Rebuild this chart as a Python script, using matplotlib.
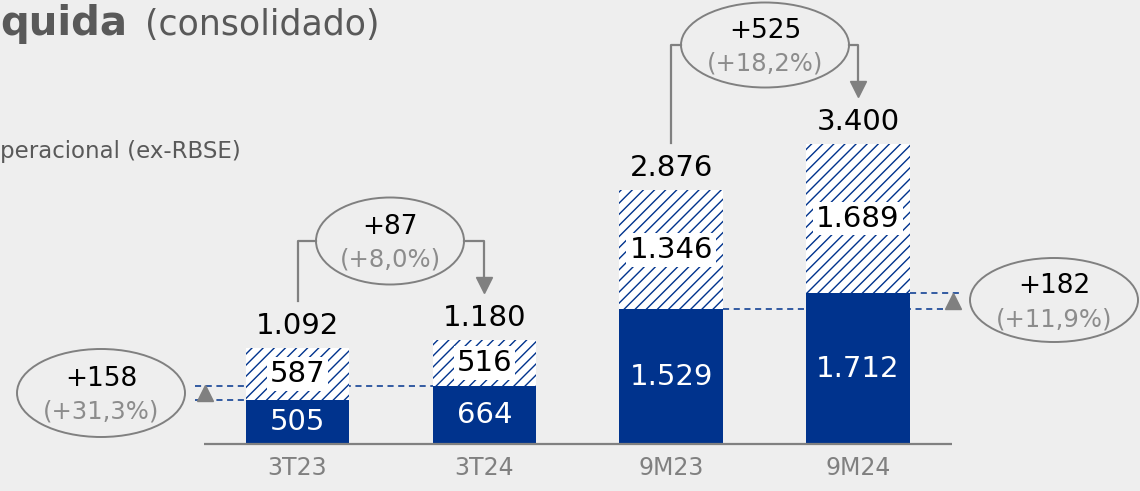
import numpy as np
import matplotlib
matplotlib.use("Agg")
import matplotlib.pyplot as plt
from matplotlib.patches import Ellipse

categories = ['3T23', '3T24', '9M23', '9M24']
base_vals = [505, 664, 1529, 1712]      # receita operacional (ex-RBSE)
other_vals = [587, 516, 1346, 1689]     # parcela hachurada
total_vals = [1092, 1180, 2876, 3400]

# comparacoes (de, para, variacao, %)
top_deltas = [(0, 1, '+87', '(+8,0%)'), (2, 3, '+525', '(+18,2%)')]
base_deltas = [(0, 1, '+158', '(+31,3%)'), (2, 3, '+182', '(+11,9%)')]

navy = '#00338d'
gray = '#808080'
bg = '#eeeeee'

def fmt(v):
    return f"{v:,}".replace(',', '.')

# pixel helpers (figure is 1140x491 px)
X0, DX, Y0, K = 297.5, 186.8, 444.3, 0.08832
def xd(px): return (px - X0) / DX
def yd(py): return (Y0 - py) / K
def w_(px): return px / DX
def h_(px): return px / K

plt.rcParams['hatch.linewidth'] = 1.0
plt.rcParams['hatch.color'] = navy
fig = plt.figure(figsize=(11.4, 4.91), dpi=100, facecolor=bg)
ax = fig.add_axes([0, 0, 1, 1])
ax.set_facecolor(bg)
ax.axis('off')
ax.set_xlim(xd(0), xd(1140))
ax.set_ylim(yd(491), yd(0))

x = np.arange(len(categories))
bw = w_(103.5)
ax.bar(x, base_vals, bw, color=navy, zorder=3)
ax.bar(x, other_vals, bw, bottom=base_vals, color='white', edgecolor=navy,
       hatch='///', linewidth=0, zorder=3)

# baseline
ax.plot([xd(204), xd(952)], [0, 0], color=gray, lw=1.6, zorder=4, solid_capstyle='butt')

for i in x:
    ax.text(i, base_vals[i] / 2, fmt(base_vals[i]), ha='center', va='center',
            color='white', fontsize=21, zorder=5)
    ax.text(i, base_vals[i] + other_vals[i] / 2, fmt(other_vals[i]), ha='center',
            va='center', color='black', fontsize=21, zorder=5,
            bbox=dict(facecolor='white', edgecolor='none', pad=2))
    ax.text(i, total_vals[i] + h_(22), fmt(total_vals[i]), ha='center', va='center',
            color='black', fontsize=21, zorder=5)
    ax.text(i, yd(468), categories[i], ha='center', va='center', color=gray, fontsize=17)

def bubble(cx, cy, w, h, main, pct):
    ax.add_patch(Ellipse((xd(cx), yd(cy)), w_(w), h_(h), facecolor='none',
                         edgecolor=gray, lw=1.4, zorder=5))
    ax.text(xd(cx), yd(cy - 14), main, ha='center', va='center', fontsize=19, color='black')
    ax.text(xd(cx), yd(cy + 19), pct, ha='center', va='center', fontsize=17.5, color='#8c8c8c')

# top brackets
top_geo = [(390, 241, 148, 87), (765, 45, 168, 85)]
for (a, b, main, pct), (cx, cy, w, h) in zip(top_deltas, top_geo):
    y_line = yd(cy)
    ax.plot([a, a, xd(cx - w / 2)], [total_vals[a] + h_(47), y_line, y_line],
            color=gray, lw=1.6, zorder=4)
    tip = total_vals[b] + h_(48)
    ax.plot([xd(cx + w / 2), b, b], [y_line, y_line, tip + h_(8)],
            color=gray, lw=1.6, zorder=4)
    ax.plot(b, tip + h_(7), marker='v', markersize=11, color=gray, zorder=4)
    bubble(cx, cy, w, h, main, pct)

# base comparisons
side_geo = [(101, 393, 168, 88, 195, 205), (1054, 300, 168, 84, 961, 953)]
for (a, b, main, pct), (cx, cy, w, h, xend, xm) in zip(base_deltas, side_geo):
    if xend < X0:
        ax.plot([xd(xend), a - bw / 2], [base_vals[a]] * 2, color=navy, lw=1.1,
                ls=(0, (4, 3)), zorder=2)
        ax.plot([xd(xend), b - bw / 2], [base_vals[b]] * 2, color=navy, lw=1.1,
                ls=(0, (4, 3)), zorder=2)
    else:
        ax.plot([a + bw / 2, xd(xend)], [base_vals[a]] * 2, color=navy, lw=1.1,
                ls=(0, (4, 3)), zorder=2)
        ax.plot([b + bw / 2, xd(xend)], [base_vals[b]] * 2, color=navy, lw=1.1,
                ls=(0, (4, 3)), zorder=2)
    ax.plot(xd(xm), (base_vals[a] + base_vals[b]) / 2, marker='^', markersize=12,
            color=gray, zorder=4)
    bubble(cx, cy, w, h, main, pct)

fig.text(0, 1 - 35 / 491, 'quida', fontsize=29, fontweight='bold', color='#595959',
         va='baseline', ha='left')
fig.text(145 / 1140, 1 - 35 / 491, '(consolidado)', fontsize=25, color='#595959',
         va='baseline', ha='left')
fig.text(0, 1 - 158 / 491, 'peracional (ex-RBSE)', fontsize=16.5, color='#595959',
         va='baseline', ha='left')

fig.savefig('out.png', dpi=100, facecolor=bg)
